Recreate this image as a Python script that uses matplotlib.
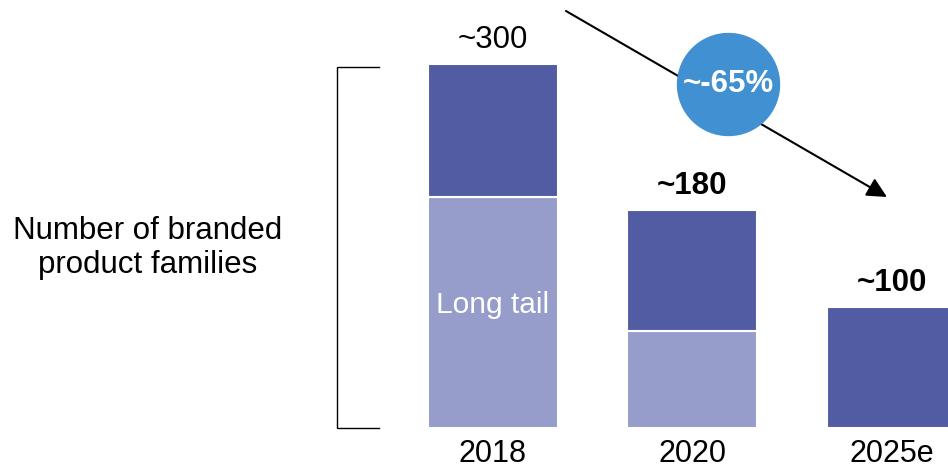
import matplotlib.pyplot as plt

plt.rcParams['font.family'] = ['Liberation Sans', 'DejaVu Sans']

years = ["2018", "2020", "2025e"]
long_tail = [190, 80, 0]
core = [110, 100, 100]
totals = ["~300", "~180", "~100"]
change_label = "~-65%"

dark = "#515ca3"
light = "#969dca"

fig = plt.figure(figsize=(9.48, 4.69), dpi=100)
# axes spans the full width; bottom edge sits at the bar baseline
ax = fig.add_axes([0, 41 / 469, 1, 428 / 469])
ax.set_xlim(-2.471, 2.281)
ax.set_ylim(0, 300 * 428 / 364)
ax.axis("off")

x = range(len(years))
w = 0.652
ax.bar(x, long_tail, width=w, color=light, edgecolor="white", linewidth=1.5)
ax.bar(x, core, width=w, bottom=long_tail, color=dark, edgecolor="white", linewidth=1.5)

for i, lab in enumerate(totals):
    top = long_tail[i] + core[i]
    ax.annotate(lab, (i, top), xytext=(0, 17), textcoords="offset points",
                ha="center", va="center", fontsize=22.5,
                fontweight="normal" if i == 0 else "bold")
    ax.annotate(years[i], (i, 0), xytext=(0, -18.5), textcoords="offset points",
                ha="center", va="center", fontsize=22)

ax.text(0, 101, "Long tail", color="white", ha="center",
        va="center", fontsize=21.5)

# bracket and caption on the left
bx0, bx1, btop = -0.782, -0.571, 297.5
ax.plot([bx1, bx0, bx0, bx1], [btop, btop, 0, 0], color="black", lw=1.0,
        solid_joinstyle="miter", clip_on=False)
ax.text(-1.729, 148, "Number of branded\nproduct families", ha="center",
        va="center", fontsize=22.5, linespacing=1.17)

# trend arrow with the percentage bubble
ax.annotate("", xy=(1.975, 190.4), xytext=(0.366, 343.7),
            arrowprops=dict(arrowstyle="-|>", color="black", lw=1.5,
                            mutation_scale=30, shrinkA=0, shrinkB=0),
            zorder=3, annotation_clip=False)
ax.scatter([1.178], [283.5], s=5390, color="#4190d2", zorder=4, clip_on=False)
ax.text(1.178, 283.5, change_label, color="white", ha="center", va="center",
        fontsize=22.5, fontweight="bold", zorder=5)

fig.savefig("out.png", dpi=100)
